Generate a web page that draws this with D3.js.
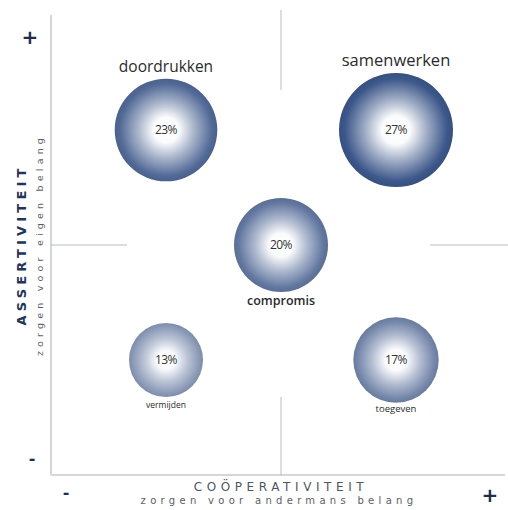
<!DOCTYPE html>
<html><head><meta charset="utf-8">
<script src="https://cdn.jsdelivr.net/npm/d3@7"></script>
<style>body{margin:0;background:#fff}svg{display:block}</style>
</head><body>
<script>
const styles = ["doordrukken", "samenwerken", "compromis", "vermijden", "toegeven"];
const cooperation = [1, 3, 2, 1, 3];
const assertiveness = [3, 3, 2, 1, 1];
const percentages = [23, 27, 20, 13, 17];
const xAxisTitle = ["COÖPERATIVITEIT", "zorgen voor andermans belang"];
const yAxisTitle = ["ASSERTIVITEIT", "zorgen voor eigen belang"];

const W = 508, H = 510;
const svg = d3.select("body").append("svg").attr("width", W).attr("height", H);
const x = d3.scaleLinear().domain([0, 4]).range([51, 511]);
const y = d3.scaleLinear().domain([0, 4]).range([475, 15]);
const r = d3.scaleLinear().domain([13, 27]).range([37, 57]);
const edge = d3.scaleLinear().domain([13, 27]).range(["#8a99b7", "#3c578a"]);

const defs = svg.append("defs");
styles.forEach((s, i) => {
  const e = edge(percentages[i]);
  const g = defs.append("radialGradient").attr("id", "g" + i)
    .attr("cx", "50%").attr("cy", "50%").attr("r", "50%");
  g.append("stop").attr("offset", "0%").attr("stop-color", "#ffffff");
  g.append("stop").attr("offset", "25%").attr("stop-color", "#fafbfc");
  g.append("stop").attr("offset", "55%").attr("stop-color", d3.interpolateRgb("#eef0f4", e)(0.45));
  g.append("stop").attr("offset", "90%").attr("stop-color", e);
  g.append("stop").attr("offset", "100%").attr("stop-color", d3.color(e).darker(0.25));
});

// axes
svg.append("line").attr("x1", x(0)).attr("x2", x(0)).attr("y1", 15).attr("y2", y(0))
  .attr("stroke", "#d4d6da").attr("stroke-width", 2);
svg.append("line").attr("x1", x(0)).attr("x2", 505).attr("y1", y(0)).attr("y2", y(0))
  .attr("stroke", "#d4d6da").attr("stroke-width", 2);

// dividers
const dv = "#b8bbc0";
svg.append("line").attr("x1", x(2)).attr("x2", x(2)).attr("y1", 10).attr("y2", 90).attr("stroke", dv);
svg.append("line").attr("x1", x(2)).attr("x2", x(2)).attr("y1", 397).attr("y2", y(0)).attr("stroke", dv);
svg.append("line").attr("x1", x(0)).attr("x2", 127).attr("y1", y(2)).attr("y2", y(2)).attr("stroke", dv);
svg.append("line").attr("x1", 430).attr("x2", W).attr("y1", y(2)).attr("y2", y(2)).attr("stroke", dv);

// bubbles
const data = styles.map((s, i) => ({name: s, cx: cooperation[i], cy: assertiveness[i], p: percentages[i], i}));
const gB = svg.selectAll("g.b").data(data).join("g").attr("class", "b");
gB.append("circle").attr("cx", d => x(d.cx)).attr("cy", d => y(d.cy)).attr("r", d => r(d.p))
  .attr("fill", d => `url(#g${d.i})`);
gB.append("text").attr("x", d => x(d.cx)).attr("y", d => y(d.cy) + 4).attr("text-anchor", "middle")
  .attr("font-family", "Open Sans, sans-serif").attr("font-size", 12).attr("fill", "#333")
  .attr("letter-spacing", -0.6)
  .text(d => d.p + "%");

const labelCfg = {
  doordrukken: {dy: -58, size: 15.5, w: 400},
  samenwerken: {dy: -64, size: 16.5, w: 400},
  compromis: {dy: 60, size: 12.5, w: 600},
  vermijden: {dy: 48, size: 8.5, w: 400},
  toegeven: {dy: 52, size: 9.5, w: 400}
};
gB.append("text").attr("x", d => x(d.cx)).attr("y", d => y(d.cy) + labelCfg[d.name].dy)
  .attr("text-anchor", "middle").attr("font-family", "Open Sans, sans-serif")
  .attr("font-size", d => labelCfg[d.name].size).attr("font-weight", d => labelCfg[d.name].w)
  .attr("fill", "#2b2b2b").text(d => d.name);

// plus / minus
const sign = (tx, ty, t, s) => svg.append("text").attr("x", tx).attr("y", ty).attr("text-anchor", "middle")
  .attr("font-family", "DejaVu Sans, sans-serif").attr("font-weight", "bold").attr("font-size", s)
  .attr("fill", "#1f2d4f").text(t);
sign(30, 44, "+", 20);
sign(32, 464, "-", 16);
sign(66, 498, "-", 16);
sign(490, 502, "+", 20);

// axis titles
svg.append("text").attr("x", 281).attr("y", 491).attr("text-anchor", "middle")
  .attr("font-family", "DejaVu Sans, sans-serif").attr("font-size", 12).attr("letter-spacing", 4.6)
  .attr("fill", "#505560").text(xAxisTitle[0]);
svg.append("text").attr("x", 279).attr("y", 504).attr("text-anchor", "middle")
  .attr("font-family", "DejaVu Sans, sans-serif").attr("font-size", 10).attr("letter-spacing", 4.3)
  .attr("fill", "#5a5e66").text(xAxisTitle[1]);
svg.append("text").attr("transform", "translate(26,245) rotate(-90)").attr("text-anchor", "middle")
  .attr("font-family", "DejaVu Sans, sans-serif").attr("font-weight", "bold").attr("font-size", 13)
  .attr("letter-spacing", 4.2).attr("fill", "#243456").text(yAxisTitle[0]);
svg.append("text").attr("transform", "translate(43,245) rotate(-90)").attr("text-anchor", "middle")
  .attr("font-family", "DejaVu Sans, sans-serif").attr("font-size", 9.5).attr("letter-spacing", 4.2)
  .attr("fill", "#5a5e66").text(yAxisTitle[1]);
</script>
</body></html>
